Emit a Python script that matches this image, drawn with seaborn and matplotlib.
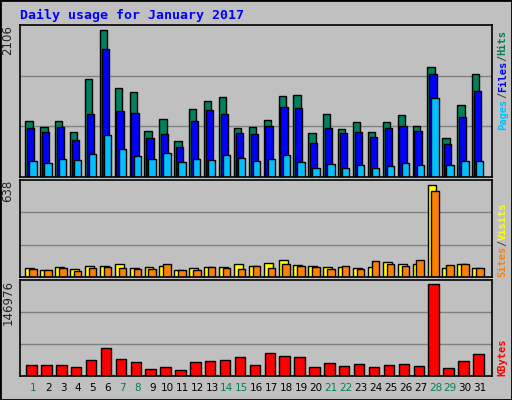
import numpy as np
import pandas as pd
import matplotlib
matplotlib.use("Agg")
import matplotlib.pyplot as plt
import seaborn as sns

days = np.arange(1, 32)
hits = [805,720,805,648,1406,2106,1277,1220,662,834,519,977,1091,1148,705,720,819,1163,1177,634,905,691,791,648,791,891,734,1568,562,1034,1477]
files = [705,648,720,534,905,1834,948,920,562,619,434,805,962,905,634,619,734,1005,991,491,705,634,648,577,705,734,662,1477,476,862,1234]
pages = [233,205,262,248,334,605,405,305,262,348,219,262,248,319,276,233,262,319,219,133,191,133,176,133,162,205,176,1134,176,233,233]
visits = [65,51,72,58,79,79,92,65,72,79,51,65,72,72,92,79,99,120,86,79,72,72,65,72,106,92,92,638,65,92,65]
sites = [58,51,65,44,65,72,65,58,58,92,51,51,72,65,58,79,65,92,79,72,58,79,58,113,92,79,120,597,86,92,65]
kbytes = [18238,18238,18238,15020,26283,45595,27892,23064,11801,15020,10192,23064,24673,26283,31111,18238,37548,32720,31111,15020,21456,16629,19847,15020,18238,19847,16629,146976,13410,24673,35939]
weekend = [1,7,8,14,15,21,22,28,29]

sns.set_style("white")
plt.rcParams['font.family'] = ['DejaVu Sans Mono', 'DejaVu Sans']

W, H = 512, 400
fig = plt.figure(figsize=(5.12, 4.0), dpi=100, facecolor="#C0C0C0")
fig.patches.append(plt.Rectangle((0, 0), 1, 1, transform=fig.transFigure, fill=False,
                                 edgecolor="black", linewidth=2))

def mkax(top, bottom):
    return fig.add_axes([20 / W, 1 - bottom / H, (492 - 20) / W, (bottom - top) / H])

GREEN = "#00805C"
renderer = fig.canvas.get_renderer()

def panel(ax, series, ymax, label_top, rlabels, top_align):
    for vals, off, w, c in series:
        sns.barplot(x=days + off, y=vals, native_scale=True, orient="x", width=w,
                    color=c, edgecolor="black", linewidth=1, ax=ax, saturation=1)
    ax.set_facecolor("#C0C0C0")
    ax.set_xlim(0.107, 31.8)
    ax.set_ylim(0, ymax)
    ax.set_yticks([ymax / 3, 2 * ymax / 3])
    ax.set_yticklabels([])
    ax.tick_params(length=0)
    ax.grid(axis="y", color="#808080", linewidth=1)
    ax.set_axisbelow(True)
    ax.set_xlabel("")
    ax.set_ylabel("")
    ax.set_xticks([])
    for s in ax.spines.values():
        s.set_color("black")
        s.set_linewidth(1.2)
    ax.text(-0.012, 1.0, label_top, transform=ax.transAxes, rotation=90,
            ha="right", va="top", fontsize=8.5, family="DejaVu Sans")
    axh = ax.get_window_extent(renderer=renderer).height
    texts = []
    for txt, col in rlabels:
        t = ax.text(1.012, 0, txt, transform=ax.transAxes, rotation=90, ha="left",
                    va="bottom", fontsize=7.5, color=col, fontweight="bold")
        texts.append((t, t.get_window_extent(renderer=renderer).height / axh))
    total = sum(h for _, h in texts)
    y = (0.97 - total) if top_align else 0.0
    for t, h in texts:
        t.set_y(y)
        y += h

ax1 = mkax(25, 177)
panel(ax1, [(hits, -0.29, 0.49, GREEN), (files, -0.17, 0.49, "#0000FF"),
            (pages, -0.02, 0.49, "#00C0FF")], 2172, "2106",
      [("Pages", "#00C0FF"), ("/", "#404040"), ("Files", "#0000FF"),
       ("/", "#404040"), ("Hits", GREEN)], True)

ax2 = mkax(180, 277)
panel(ax2, [(visits, -0.23, 0.6, "#FFFF00"), (sites, -0.02, 0.5, "#FF8000")],
      670, "638",
      [("Sites", "#FF8000"), ("/", "#404040"), ("Visits", "#FFFF00")], False)

ax3 = mkax(280, 376)
panel(ax3, [(kbytes, -0.12, 0.7, "#FF0000")], 153950, "146976",
      [("KBytes", "#FF0000")], False)

for d in days:
    ax3.text(d, -0.07, str(d), transform=ax3.get_xaxis_transform(), ha="center",
             va="top", fontsize=7.5, family="DejaVu Sans",
             color=GREEN if d in weekend else "black")

fig.text(20 / W, 1 - 15 / H, "Daily usage for January 2017", color="#0000FF",
         fontsize=9.5, fontweight="bold", va="center", ha="left")

fig.savefig("out.png", dpi=100, facecolor=fig.get_facecolor())
